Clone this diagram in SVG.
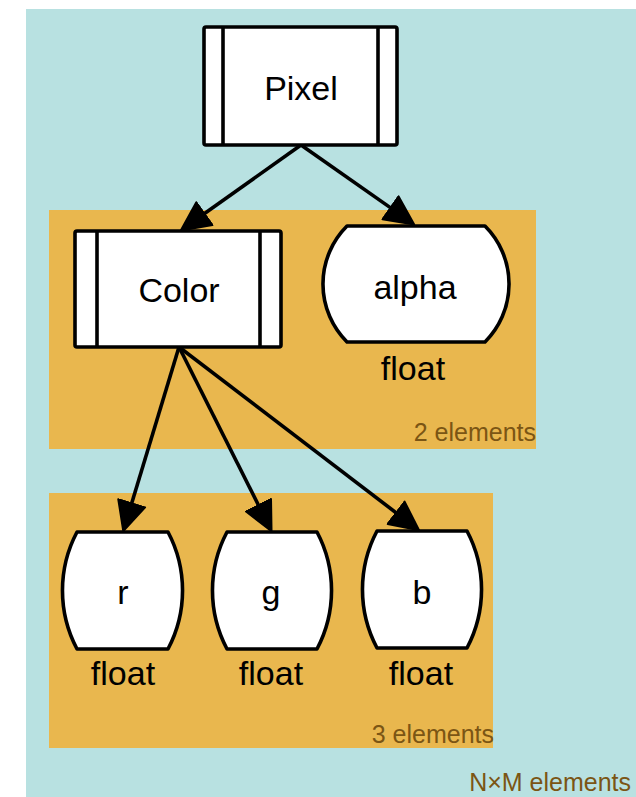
<svg xmlns="http://www.w3.org/2000/svg" width="636" height="797" viewBox="0 0 636 797">
  <style>
    .box { fill: #ffffff; stroke: #000000; stroke-width: 3.6; stroke-linejoin: round; }
    .bar { stroke: #000000; stroke-width: 3.6; }
    .lbl { font-family: "Liberation Sans", Arial, sans-serif; font-size: 34px; fill: #000000; text-anchor: middle; }
    .cnt { font-family: "Liberation Sans", Arial, sans-serif; font-size: 25px; fill: #7B5514; text-anchor: end; }
    .edge { fill: none; stroke: #000000; stroke-width: 3.6; marker-end: url(#arrow); }
  </style>
  <defs>
    <marker id="arrow" markerUnits="userSpaceOnUse" viewBox="0 -17 34 34" markerWidth="34" markerHeight="34" refX="3" refY="0" orient="auto">
      <path d="M1,-14 L30,0 L1,14 Z" fill="#000000" stroke="#000000" stroke-width="2" stroke-linejoin="round"/>
    </marker>
  </defs>

  <rect width="636" height="797" fill="#ffffff"/>

  <!-- outer array cluster -->
  <g id="cluster-pixels">
    <rect x="26" y="9" width="610" height="788" fill="#B8E1E1"/>
    <text class="cnt" x="631" y="791">N×M elements</text>
  </g>

  <!-- Color/alpha cluster -->
  <g id="cluster-pixel-fields">
    <rect x="49" y="210" width="487" height="239" fill="#E9B74E"/>
    <text class="cnt" x="536" y="441">2 elements</text>
  </g>

  <!-- r/g/b cluster -->
  <g id="cluster-color-fields">
    <rect x="49" y="493" width="444" height="255" fill="#E9B74E"/>
    <text class="cnt" x="494" y="743">3 elements</text>
  </g>

  <g id="connectors">
    <path class="edge" d="M301,145 L202.8,214.8"/>
    <path class="edge" d="M301,145 L392.1,208.9"/>
    <path class="edge" d="M179,347 L131.1,505.2"/>
    <path class="edge" d="M179,347 L259.4,507"/>
    <path class="edge" d="M179,347 L397.7,514"/>
  </g>

  <g id="node-pixel">
    <rect class="box" x="204" y="27" width="193" height="118" rx="2"/>
    <line class="bar" x1="223" y1="27" x2="223" y2="145"/>
    <line class="bar" x1="378" y1="27" x2="378" y2="145"/>
    <text class="lbl" x="301" y="100">Pixel</text>
  </g>

  <g id="node-color">
    <rect class="box" x="75" y="231" width="206" height="116" rx="2"/>
    <line class="bar" x1="97" y1="231" x2="97" y2="347"/>
    <line class="bar" x1="260" y1="231" x2="260" y2="347"/>
    <text class="lbl" x="179" y="302">Color</text>
  </g>

  <g id="node-alpha">
    <path class="box" d="M347,226 L485,226 A82,82 0 0 1 485,342 L347,342 A82,82 0 0 1 347,226 Z"/>
    <text class="lbl" x="415" y="299">alpha</text>
    <text class="lbl" x="413" y="380">float</text>
  </g>

  <g id="node-r">
    <path class="box" d="M77,532 L168,532 A125,125 0 0 1 168,649 L77,649 A125,125 0 0 1 77,532 Z"/>
    <text class="lbl" x="123" y="604">r</text>
    <text class="lbl" x="123" y="685">float</text>
  </g>

  <g id="node-g">
    <path class="box" d="M227,532 L317,532 A125,125 0 0 1 317,649 L227,649 A125,125 0 0 1 227,532 Z"/>
    <text class="lbl" x="271" y="604">g</text>
    <text class="lbl" x="271" y="685">float</text>
  </g>

  <g id="node-b">
    <path class="box" d="M377,531 L467,531 A125,125 0 0 1 467,648 L377,648 A125,125 0 0 1 377,531 Z"/>
    <text class="lbl" x="422" y="604">b</text>
    <text class="lbl" x="421" y="685">float</text>
  </g>
</svg>
